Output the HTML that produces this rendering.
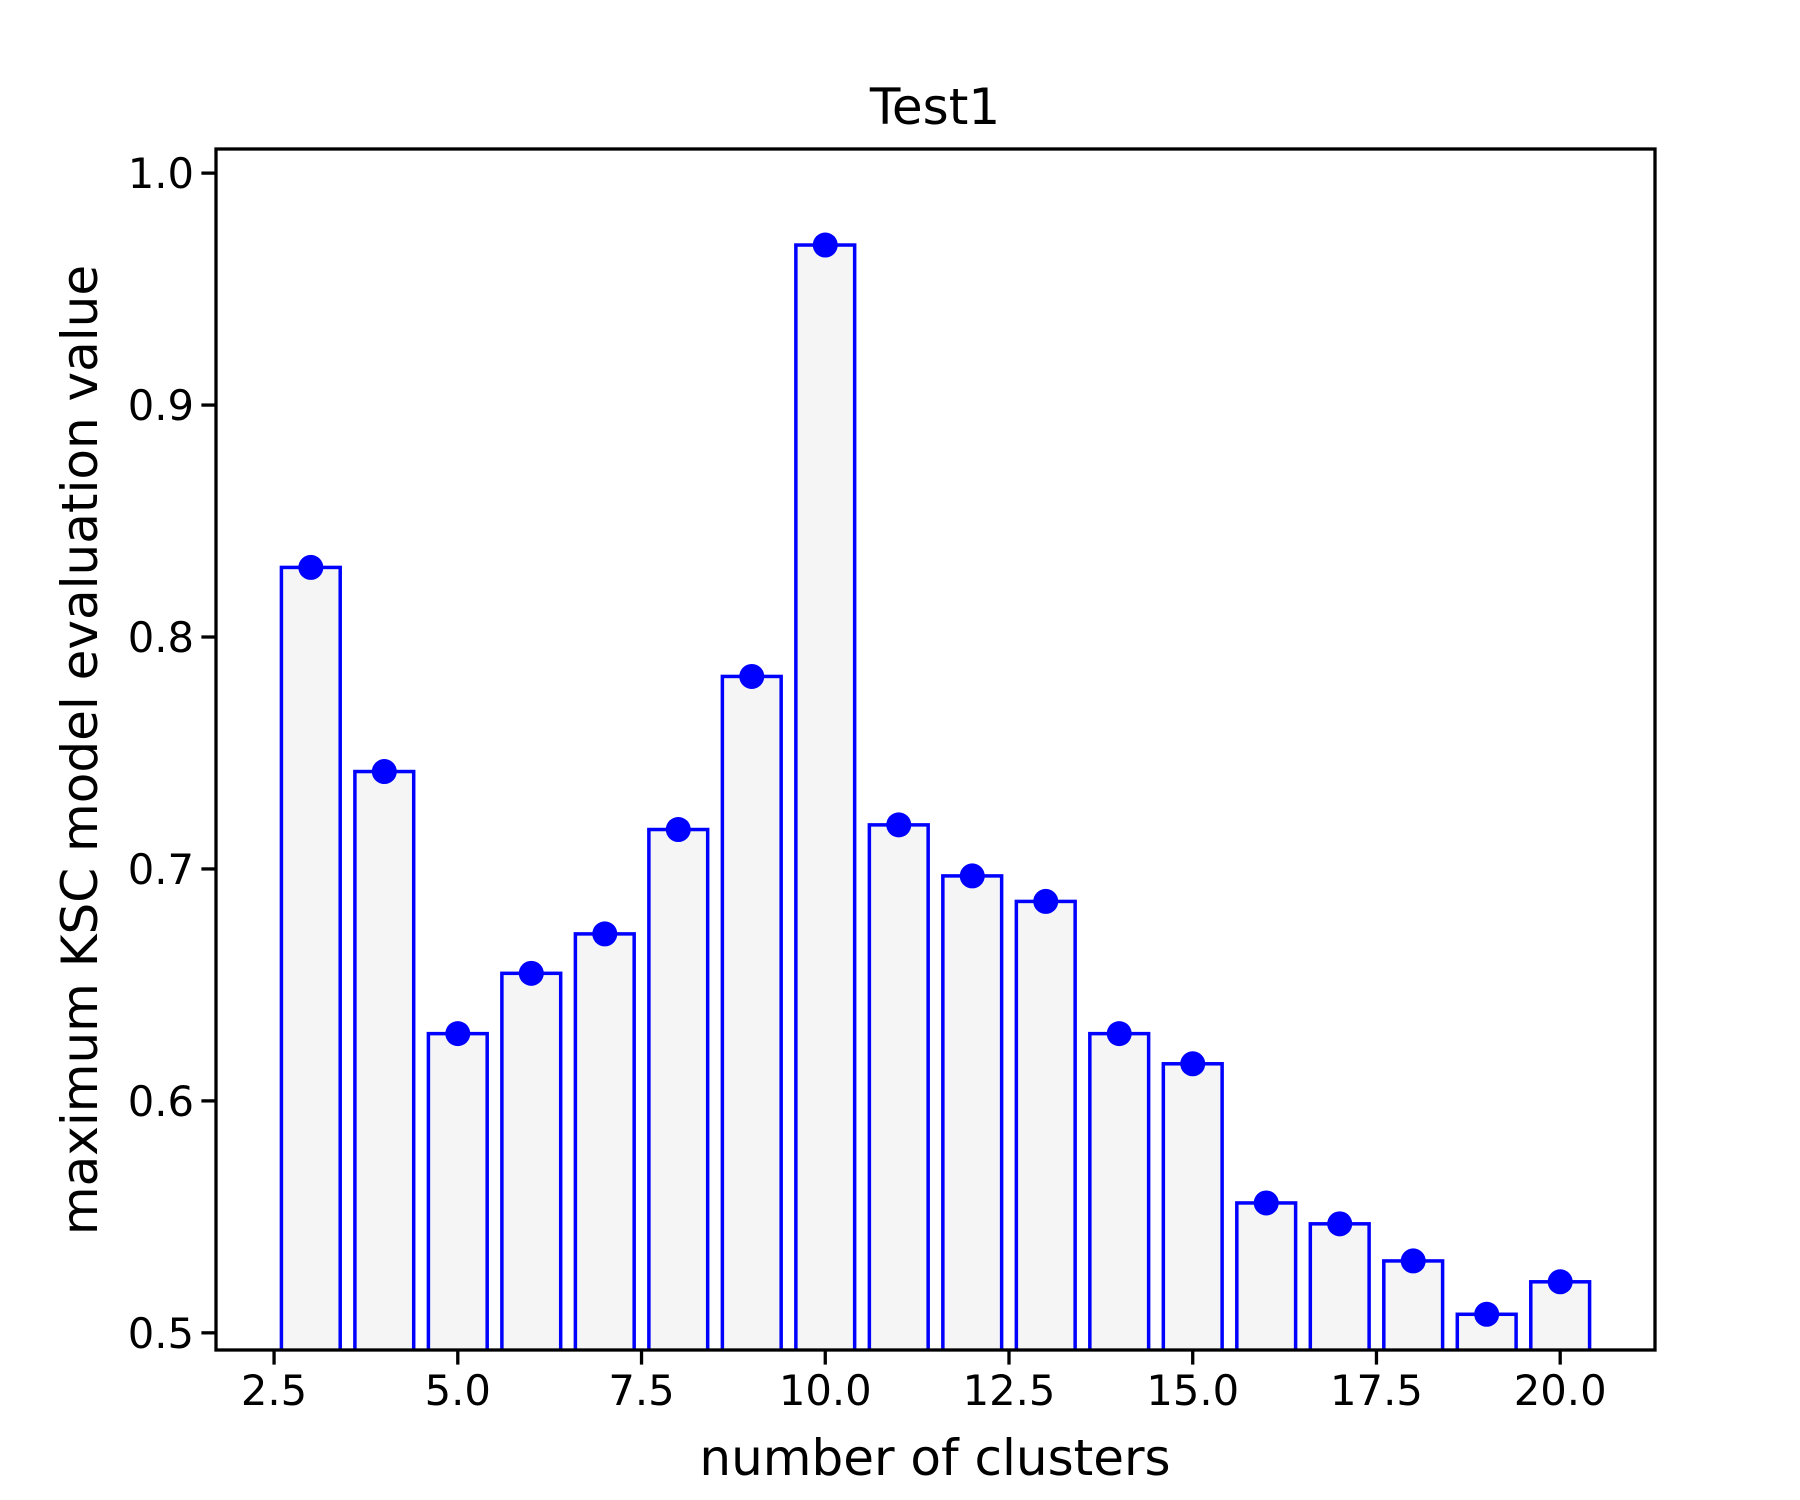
<!DOCTYPE html>
<html><head><meta charset="utf-8"><style>body{margin:0;background:#fff}svg{display:block}text{font-family:"DejaVu Sans","Liberation Sans",sans-serif;fill:#000}</style></head>
<body>
<svg id="chart" width="1800" height="1500" viewBox="0 0 1800 1500" xmlns="http://www.w3.org/2000/svg">
<rect width="1800" height="1500" fill="#fff"/>
<g id="plot"></g>
<text x="935" y="124" font-size="50" text-anchor="middle">Test1</text>
<text x="935" y="1475" font-size="50" text-anchor="middle">number of clusters</text>
<text transform="translate(97,750) rotate(-90)" font-size="50" text-anchor="middle">maximum KSC model evaluation value</text>
</svg>
<script>
const categories=[3,4,5,6,7,8,9,10,11,12,13,14,15,16,17,18,19,20];
const values=[0.830,0.742,0.629,0.655,0.672,0.717,0.783,0.969,0.719,0.697,0.686,0.629,0.616,0.556,0.547,0.531,0.508,0.522];
const xTicks=[2.5,5.0,7.5,10.0,12.5,15.0,17.5,20.0];
const yTicks=[0.5,0.6,0.7,0.8,0.9,1.0];
const L=216,R=1655,T=149,B=1350;
const xmin=1.71,xmax=21.29,ymin=0.4926,ymax=1.0104;
const xs=v=>L+(v-xmin)/(xmax-xmin)*(R-L);
const ys=v=>B-(v-ymin)/(ymax-ymin)*(B-T);
const NS='http://www.w3.org/2000/svg';
const g=document.getElementById('plot');
function mk(tag,attrs){const e=document.createElementNS(NS,tag);for(const k in attrs)e.setAttribute(k,attrs[k]);g.appendChild(e);return e;}
const clip=mk('clipPath',{id:'c'});
const cr=document.createElementNS(NS,'rect');cr.setAttribute('x',L);cr.setAttribute('y',T);cr.setAttribute('width',R-L);cr.setAttribute('height',B-T);clip.appendChild(cr);
categories.forEach((c,i)=>{
  const x0=xs(c-0.4),x1=xs(c+0.4),y=ys(values[i]);
  const b=mk('rect',{x:x0,y:y,width:x1-x0,height:B+10-y,fill:'#f5f5f5',stroke:'#0000ff','stroke-width':3.5,'clip-path':'url(#c)'});
  
  
});
categories.forEach((c,i)=>{
  const p=mk('circle',{cx:xs(c),cy:ys(values[i]),r:12.5,fill:'#0000ff'});
  
  
});
const fr=mk('rect',{x:L,y:T,width:R-L,height:B-T,fill:'none',stroke:'#000','stroke-width':3.3});


xTicks.forEach(t=>{
  const x=xs(t);
  mk('line',{x1:x,x2:x,y1:B,y2:B+14.6,stroke:'#000','stroke-width':3.3});
  const tx=mk('text',{x:x,y:B+55,'font-size':41.7,'text-anchor':'middle'});
  tx.textContent=t.toFixed(1);
  
  
});
yTicks.forEach(t=>{
  const y=ys(t);
  mk('line',{x1:L-14.6,x2:L,y1:y,y2:y,stroke:'#000','stroke-width':3.3});
  const tx=mk('text',{x:L-22,y:y+15,'font-size':41.7,'text-anchor':'end'});
  tx.textContent=t.toFixed(1);
  
  
});
</script>
</body></html>
